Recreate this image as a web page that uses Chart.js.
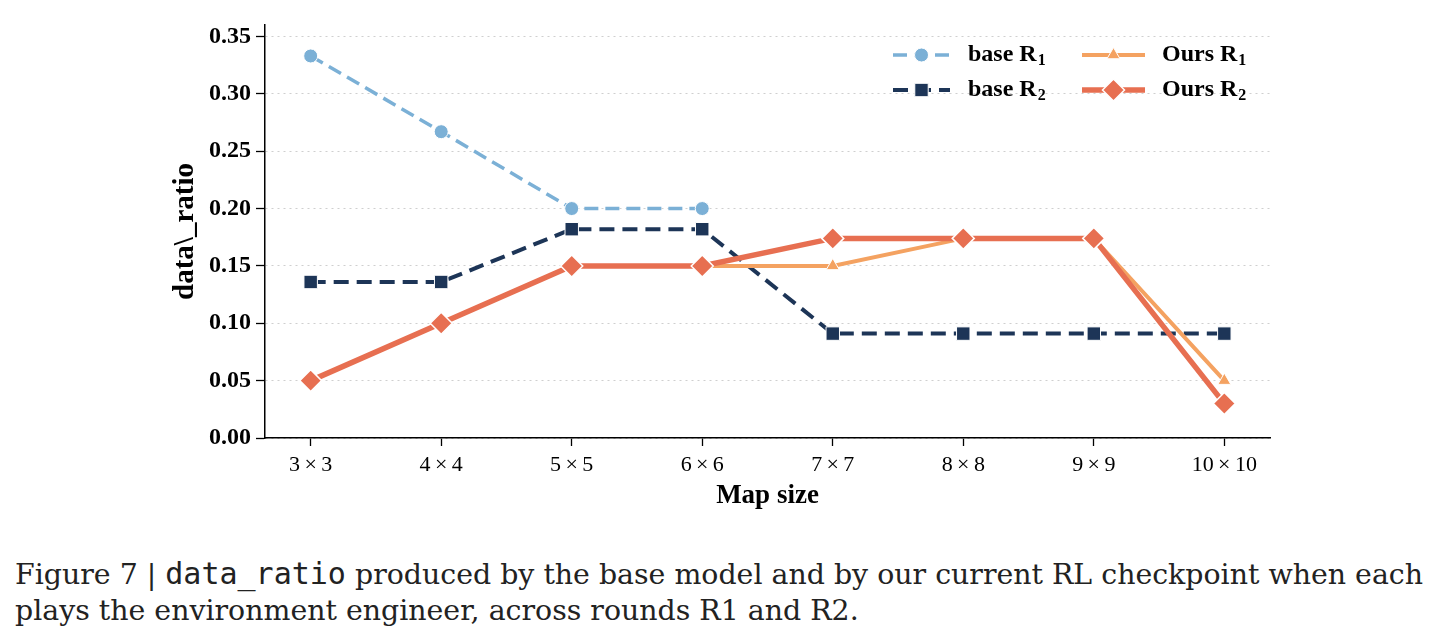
<!DOCTYPE html>
<html>
<head>
<meta charset="utf-8">
<script src="https://cdn.jsdelivr.net/npm/chart.js@4.4.1/dist/chart.umd.min.js"></script>
<style>
  html, body { margin: 0; padding: 0; background: #fff; }
  body { width: 1442px; height: 642px; position: relative; overflow: hidden; }
  #wrap { position: absolute; left: 0; top: 0; width: 1442px; height: 530px; }
  #caption {
    position: absolute; left: 15px; top: 556px;
    font-family: "DejaVu Serif", serif; font-size: 28.4px; line-height: 36px;
    color: #222; white-space: nowrap;
  }
  #caption code { font-family: "DejaVu Sans Mono", monospace; font-size: 30px; }
</style>
</head>
<body>
<div id="wrap"><canvas id="myChart" width="1442" height="530"></canvas></div>
<div id="caption">Figure 7 | <code>data_ratio</code> produced by the base model and by our current RL checkpoint when each<br>plays the environment engineer, across rounds R1 and R2.</div>
<script>
const mapSizes = ["3\u2009×\u20093", "4\u2009×\u20094", "5\u2009×\u20095", "6\u2009×\u20096", "7\u2009×\u20097", "8\u2009×\u20098", "9\u2009×\u20099", "10\u2009×\u200910"];
const baseR1 = [0.333, 0.267, 0.2, 0.2];
const baseR2 = [0.136, 0.136, 0.182, 0.182, 0.091, 0.091, 0.091, 0.091];
const oursR1 = [0.05, 0.1, 0.15, 0.15, 0.15, 0.174, 0.174, 0.05];
const oursR2 = [0.05, 0.1, 0.15, 0.15, 0.174, 0.174, 0.174, 0.03];
const yTicks = [0, 0.05, 0.1, 0.15, 0.2, 0.25, 0.3, 0.35];

const serif = "'Liberation Serif', 'Times New Roman', serif";

function toPoints(arr) {
  return arr.map((v, i) => ({ x: i, y: v }));
}

// legend drawn by hand: line sample + marker, two columns
const legendPlugin = {
  id: "lineLegend",
  afterDraw(chart) {
    const ctx = chart.ctx;
    const area = chart.chartArea;
    const items = [
      { ds: 3, name: "base R", sub: "1", col: 0, row: 0 },
      { ds: 2, name: "base R", sub: "2", col: 0, row: 1 },
      { ds: 1, name: "Ours R", sub: "1", col: 1, row: 0 },
      { ds: 0, name: "Ours R", sub: "2", col: 1, row: 1 },
    ];
    items.forEach((it) => {
      const d = chart.data.datasets[it.ds];
      const x0 = area.right - (it.col === 0 ? 377 : 188);
      const y = area.top + (it.row === 0 ? 30 : 65);
      const w = it.col === 0 ? 57 : 63;
      ctx.save();
      ctx.strokeStyle = d.borderColor;
      ctx.lineWidth = d.borderWidth;
      ctx.setLineDash(d.borderDash || []);
      ctx.beginPath();
      ctx.moveTo(x0, y);
      ctx.lineTo(x0 + w, y);
      ctx.stroke();
      ctx.setLineDash([]);
      ctx.fillStyle = d.pointBackgroundColor;
      ctx.strokeStyle = d.pointBorderColor;
      ctx.lineWidth = d.pointBorderWidth;
      Chart.helpers.drawPoint(ctx, {
        pointStyle: d.pointStyle, radius: d.pointRadius, rotation: 0, borderWidth: d.pointBorderWidth,
      }, x0 + w / 2, y);
      ctx.fillStyle = "#000";
      ctx.textBaseline = "middle";
      ctx.font = "bold 24px " + serif;
      const tx = x0 + (it.col === 0 ? 75 : 80);
      ctx.fillText(it.name, tx, y);
      const nw = ctx.measureText(it.name).width;
      ctx.font = "bold 16px " + serif;
      ctx.fillText(it.sub, tx + nw + 1, y + 6);
      ctx.restore();
    });
  },
};

initChart();

function initChart() {
  const ctx = document.getElementById("myChart").getContext("2d");
  window.chart = new Chart(ctx, {
    type: "line",
    data: {
      datasets: [
        {
          label: "Ours R2",
          data: toPoints(oursR2),
          borderColor: "#e76f51",
          borderWidth: 5.5,
          pointStyle: "rectRot",
          pointRadius: 11,
          pointBackgroundColor: "#e76f51",
          pointBorderColor: "#ffffff",
          pointBorderWidth: 1.5,
          order: 1,
        },
        {
          label: "Ours R1",
          data: toPoints(oursR1),
          borderColor: "#f4a261",
          borderWidth: 4,
          pointStyle: "triangle",
          pointRadius: 7.5,
          pointBackgroundColor: "#f4a261",
          pointBorderColor: "#ffffff",
          pointBorderWidth: 1,
          order: 2,
        },
        {
          label: "base R2",
          data: toPoints(baseR2),
          borderColor: "#1d3557",
          borderWidth: 4,
          borderDash: [15, 8],
          pointStyle: "rect",
          pointRadius: 9.5,
          pointBackgroundColor: "#1d3557",
          pointBorderColor: "#ffffff",
          pointBorderWidth: 1,
          order: 3,
        },
        {
          label: "base R1",
          data: toPoints(baseR1),
          borderColor: "#7bb0d6",
          borderWidth: 3.5,
          borderDash: [14, 7],
          pointStyle: "circle",
          pointRadius: 7,
          pointBackgroundColor: "#7bb0d6",
          pointBorderColor: "#ffffff",
          pointBorderWidth: 1,
          order: 4,
        },
      ],
    },
    options: {
      responsive: false,
      animation: false,
      layout: { padding: { left: 168, top: 25, right: 172, bottom: 0 } },
      plugins: { legend: { display: false }, tooltip: { enabled: false } },
      elements: { line: { tension: 0 } },
      scales: {
        x: {
          type: "linear",
          min: -0.35,
          max: 7.35,
          afterBuildTicks: (s) => { s.ticks = mapSizes.map((c, i) => ({ value: i })); },
          afterFit: (s) => { s.height = 92; },
          ticks: {
            callback: (v) => mapSizes[v],
            color: "#000",
            font: { family: serif, size: 22 },
            padding: 6,
            maxRotation: 0,
            autoSkip: false,
          },
          grid: { drawOnChartArea: false, drawTicks: true, tickLength: 8, tickColor: "#000", tickWidth: 1.3 },
          border: { display: true, color: "#000", width: 1.5 },
          title: {
            display: true,
            text: "Map size",
            color: "#000",
            font: { family: serif, size: 27, weight: "bold" },
            padding: { top: 0, bottom: 18 },
          },
        },
        y: {
          min: 0,
          max: 0.36,
          afterBuildTicks: (s) => { s.ticks = yTicks.map((v) => ({ value: v })); },
          afterFit: (s) => { s.width = 97; },
          ticks: {
            callback: (v) => v.toFixed(2),
            color: "#000",
            font: { family: serif, size: 24, weight: "bold" },
            padding: 5,
          },
          grid: {
            color: "#cfcfcf",
            lineWidth: 1,
            tickLength: 9,
            tickColor: "#000",
            tickWidth: 1.3,
            tickBorderDash: [],
          },
          border: { display: true, color: "#000", width: 1.5, dash: [2, 4] },
          title: {
            display: true,
            text: "data\\_ratio",
            color: "#000",
            font: { family: serif, size: 29, weight: "bold" },
            padding: { top: 0, bottom: 0 },
          },
        },
      },
    },
    plugins: [legendPlugin],
  });
}
</script>
</body>
</html>
